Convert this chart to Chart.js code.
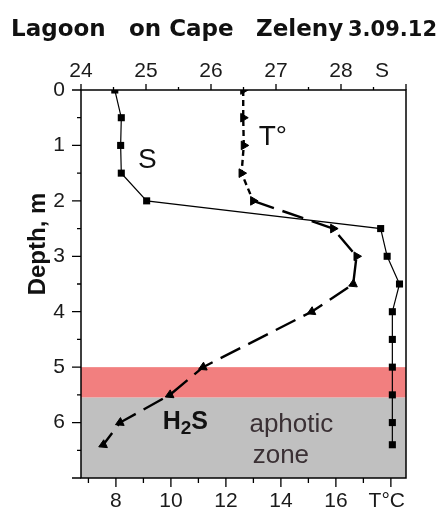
<!DOCTYPE html>
<html>
<head>
<meta charset="utf-8">
<script src="https://cdn.jsdelivr.net/npm/chart.js@4.4.0/dist/chart.umd.min.js"></script>
<style>
  html, body { margin: 0; padding: 0; background: #fff; }
  #wrap { width: 438px; height: 509px; }
</style>
</head>
<body>
<div id="wrap"><canvas id="profileChart" width="438" height="509"></canvas></div>
<script>
// sampling depths, m
const depths = [0, 0.5, 1, 1.5, 2, 2.5, 3, 3.5, 4, 4.5, 5, 5.5, 6, 6.4];
// salinity S at each depth
const salinity = [24.52, 24.62, 24.61, 24.62, 25.01, 28.61, 28.71, 28.9, 28.79, 28.79, 28.79, 28.79, 28.79, 28.79];
// temperature was not taken at 4.5 m
const tempDepths = [0, 0.5, 1, 1.5, 2, 2.5, 3, 3.5, 4, 5, 5.5, 6, 6.4];
const temperature = [12.63, 12.63, 12.65, 12.57, 12.99, 15.9, 16.75, 16.63, 15.12, 11.17, 9.96, 8.15, 7.54];

// tick labels
const depthTicks = [0, 1, 2, 3, 4, 5, 6];
const salinityTicks = [24, 25, 26, 27, 28];
const tempTicks = [8, 10, 12, 14, 16];

// layers: red band and the aphotic (H2S) zone, m
const redLayer = [5.0, 5.55];
const aphoticLayer = [5.55, 7];

const SALT_UNIT = 28.63;   // where the "S" unit label sits on the top axis
const TEMP_UNIT = 17.85;   // where "T°C" sits on the bottom axis

const tickFont = { family: 'Liberation Sans', size: 21 };
const tickColor = '#1a1a1a';

function range(a, b, step) {
  const out = [];
  for (let v = a; v <= b + 1e-9; v += step) out.push(+v.toFixed(2));
  return out;
}

// bands behind the profiles
const layersPlugin = {
  id: 'layers',
  beforeDatasetsDraw(chart) {
    const { ctx, chartArea: a, scales: { y } } = chart;
    ctx.save();
    ctx.fillStyle = '#f27f7f';
    const r0 = y.getPixelForValue(redLayer[0]), r1 = y.getPixelForValue(redLayer[1]);
    ctx.fillRect(a.left, r0, a.right - a.left, r1 - r0);
    ctx.fillStyle = '#c0c0c0';
    const g0 = y.getPixelForValue(aphoticLayer[0]), g1 = y.getPixelForValue(aphoticLayer[1]);
    ctx.fillRect(a.left, g0, a.right - a.left, g1 - g0);
    ctx.restore();
  }
};

// frame, tick marks and all the labels around the plot
const decorPlugin = {
  id: 'decor',
  afterDatasetsDraw(chart) {
    const { ctx, chartArea: a, scales } = chart;
    const { x, x2, y } = scales;
    ctx.save();
    ctx.strokeStyle = '#000';
    ctx.lineWidth = 1.5;
    ctx.strokeRect(a.left, a.top, a.right - a.left, a.bottom - a.top);

    ctx.lineWidth = 1.3;
    ctx.beginPath();
    range(0, 7, 0.5).forEach(v => {
      const py = y.getPixelForValue(v);
      const len = Number.isInteger(v) ? 9 : 4;
      ctx.moveTo(a.left - len, py); ctx.lineTo(a.left, py);
    });
    range(24, 29, 0.5).forEach(v => {
      const px = x2.getPixelForValue(v);
      const len = Number.isInteger(v) ? 6 : 3;
      ctx.moveTo(px, a.top - len); ctx.lineTo(px, a.top);
    });
    range(7, 18, 1).forEach(v => {
      const px = x.getPixelForValue(v);
      const len = v % 2 === 0 ? 9 : 5;
      ctx.moveTo(px, a.bottom); ctx.lineTo(px, a.bottom + len);
    });
    ctx.stroke();

    // curve labels
    ctx.fillStyle = '#111';
    ctx.textAlign = 'center';
    ctx.textBaseline = 'middle';
    ctx.font = '28px "Liberation Sans"';
    ctx.fillText('S', x2.getPixelForValue(25.02), y.getPixelForValue(1.26));
    ctx.fillText('T°', x.getPixelForValue(13.71), y.getPixelForValue(0.85));

    // H2S with a subscript
    const hx = x.getPixelForValue(9.7), hy = y.getPixelForValue(6.12);
    ctx.textAlign = 'left';
    ctx.textBaseline = 'alphabetic';
    ctx.font = 'bold 25px "Liberation Sans"';
    ctx.fillText('H', hx, hy);
    let w = ctx.measureText('H').width;
    ctx.font = 'bold 19px "Liberation Sans"';
    ctx.fillText('2', hx + w, hy + 5);
    w += ctx.measureText('2').width;
    ctx.font = 'bold 25px "Liberation Sans"';
    ctx.fillText('S', hx + w, hy);

    ctx.fillStyle = '#3a3034';
    ctx.textAlign = 'center';
    ctx.font = '26px "Liberation Sans"';
    ctx.fillText('aphotic', x.getPixelForValue(14.38), y.getPixelForValue(6.17));
    ctx.fillText('zone', x.getPixelForValue(14.0), y.getPixelForValue(6.73));
    ctx.restore();
  },
  afterDraw(chart) {
    const { ctx } = chart;
    ctx.save();
    ctx.fillStyle = '#111';
    ctx.textBaseline = 'alphabetic';
    ctx.textAlign = 'left';
    ctx.font = 'bold 23px "DejaVu Sans"';
    ctx.fillText('Lagoon', 11, 36);
    ctx.fillText('on Cape', 129, 36);
    ctx.fillText('Zeleny', 256, 36);
    ctx.font = 'bold 21px "DejaVu Sans"';
    ctx.fillText('3.09.12', 348, 36);

    ctx.translate(45, 244);
    ctx.rotate(-Math.PI / 2);
    ctx.textAlign = 'center';
    ctx.font = 'bold 24px "Liberation Sans"';
    ctx.fillText('Depth, m', 0, 0);
    ctx.restore();
  }
};

const ctx = document.getElementById('profileChart');
new Chart(ctx, {
  type: 'scatter',
  data: {
    datasets: [
      {
        label: 'T',
        xAxisID: 'x',
        yAxisID: 'y',
        data: tempDepths.map((d, i) => ({ x: temperature[i], y: d })),
        showLine: true,
        borderColor: '#000',
        borderWidth: 2.4,
        borderDash: [22, 9],
        // short dashes in the mixed upper layer, long ones below
        segment: { borderDash: s => (s.p0DataIndex < 4 ? [6, 4] : [22, 9]) },
        pointStyle: 'triangle',
        pointRadius: 5,
        pointRotation: c => (c.dataIndex < 7 ? 90 : 245),
        pointBackgroundColor: '#000',
        pointBorderColor: '#000',
        pointBorderWidth: 1
      },
      {
        label: 'S',
        xAxisID: 'x2',
        yAxisID: 'y',
        data: depths.map((d, i) => ({ x: salinity[i], y: d })),
        showLine: true,
        borderColor: '#000',
        borderWidth: 1.2,
        pointStyle: 'rect',
        pointRadius: 5,
        pointBackgroundColor: '#000',
        pointBorderColor: '#000',
        pointBorderWidth: 0
      }
    ]
  },
  options: {
    responsive: false,
    animation: false,
    devicePixelRatio: 1,
    layout: { padding: { top: 0, right: 32, bottom: 0, left: 0 } },
    plugins: { legend: { display: false }, tooltip: { enabled: false } },
    scales: {
      y: {
        type: 'linear',
        reverse: true,
        min: 0,
        max: 7,
        grid: { display: false, drawTicks: false },
        border: { display: false },
        afterBuildTicks: s => { s.ticks = depthTicks.map(v => ({ value: v })); },
        afterFit: s => { s.width = 81; },
        ticks: { font: tickFont, color: tickColor, padding: 16, autoSkip: false }
      },
      x: {
        type: 'linear',
        position: 'bottom',
        min: 6.73,
        max: 18.55,
        grid: { display: false, drawTicks: false },
        border: { display: false },
        afterBuildTicks: s => { s.ticks = tempTicks.concat([TEMP_UNIT]).map(v => ({ value: v })); },
        afterFit: s => { s.height = 31; },
        ticks: {
          font: tickFont, color: tickColor, padding: 11, autoSkip: false, maxRotation: 0,
          callback: v => (v === TEMP_UNIT ? 'T°C' : v)
        }
      },
      x2: {
        type: 'linear',
        position: 'top',
        min: 24,
        max: 29,
        grid: { display: false, drawTicks: false },
        border: { display: false },
        afterBuildTicks: s => { s.ticks = salinityTicks.concat([SALT_UNIT]).map(v => ({ value: v })); },
        afterFit: s => { s.height = 90; },
        ticks: {
          font: tickFont, color: tickColor, padding: 6, autoSkip: false, maxRotation: 0,
          callback: v => (v === SALT_UNIT ? 'S' : v)
        }
      }
    }
  },
  plugins: [layersPlugin, decorPlugin]
});
</script>
</body>
</html>
